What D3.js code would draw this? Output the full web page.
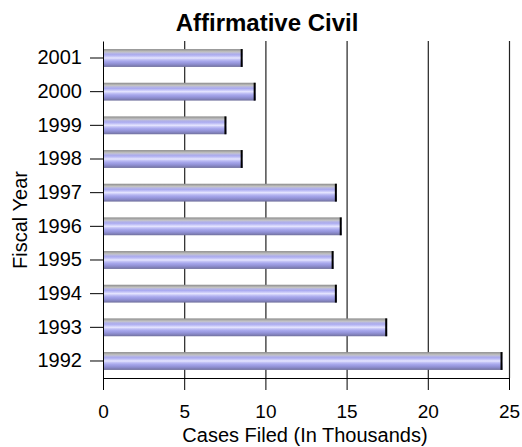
<!DOCTYPE html>
<html>
<head>
<meta charset="utf-8">
<script src="https://cdn.jsdelivr.net/npm/d3@7"></script>
<style>
  html, body { margin: 0; padding: 0; background: #fff; }
  svg { display: block; font-family: Arial, "Liberation Sans", sans-serif; }
</style>
</head>
<body>
<svg id="chart" width="522" height="447"></svg>
<script>
// Affirmative civil cases filed, by fiscal year (thousands)
const years = ["2001", "2000", "1999", "1998", "1997", "1996", "1995", "1994", "1993", "1992"];
const casesFiled = [8.6, 9.4, 7.6, 8.6, 14.4, 14.7, 14.2, 14.4, 17.5, 24.6];
const xTicks = [0, 5, 10, 15, 20, 25];

const svg = d3.select("#chart");
const margin = { top: 41, right: 13, bottom: 69, left: 103 };
const width = 522 - margin.left - margin.right;
const height = 447 - margin.top - margin.bottom;
const FONT = "Arial, 'Liberation Sans', sans-serif";

const x = d3.scaleLinear().domain([0, 25]).range([0, width]);
const y = d3.scaleBand().domain(years).range([0, height]).paddingInner(0.47).paddingOuter(0.24);

// striped lavender fill for the bars
const defs = svg.append("defs");
const grad = defs.append("linearGradient")
  .attr("id", "barFill").attr("x1", 0).attr("y1", 0).attr("x2", 0).attr("y2", 1);
const stops = [
  [0.00, "#8a8a8a"], [0.08, "#a8a8a8"], [0.16, "#c4c4c4"], [0.22, "#b8b8e0"],
  [0.32, "#aaaaf0"], [0.42, "#c8c8f8"], [0.50, "#e6e6ff"], [0.58, "#c4c4f6"],
  [0.68, "#a8a8ec"], [0.78, "#9898de"], [0.88, "#8888c6"], [1.00, "#70709c"]
];
stops.forEach(([o, c]) => grad.append("stop").attr("offset", o).attr("stop-color", c));

const g = svg.append("g").attr("transform", `translate(${margin.left},${margin.top})`);

// vertical grid lines
g.append("g").selectAll("line")
  .data(xTicks.filter(t => t > 0))
  .join("line")
  .attr("x1", d => x(d) + 0.5).attr("x2", d => x(d) + 0.5)
  .attr("y1", 0).attr("y2", height)
  .attr("stroke", "#222").attr("stroke-width", 1.2);

// bars
const bars = g.append("g").selectAll("g")
  .data(years.map((yr, i) => ({ yr, v: casesFiled[i] })))
  .join("g");
bars.append("rect")
  .attr("x", 0)
  .attr("y", d => y(d.yr))
  .attr("width", d => x(d.v))
  .attr("height", y.bandwidth())
  .attr("fill", "url(#barFill)");
bars.append("line")
  .attr("x1", d => x(d.v) - 1).attr("x2", d => x(d.v) - 1)
  .attr("y1", d => y(d.yr)).attr("y2", d => y(d.yr) + y.bandwidth())
  .attr("stroke", "#000").attr("stroke-width", 2);

// x axis
const xAxis = g.append("g")
  .attr("transform", `translate(0,${height})`)
  .call(d3.axisBottom(x).tickValues(xTicks).tickSize(12).tickPadding(15).tickSizeOuter(0));
xAxis.attr("font-size", 19).attr("font-family", FONT);
xAxis.select(".domain").attr("stroke", "#000");
xAxis.selectAll(".tick line").attr("stroke", "#000");
xAxis.selectAll("text").attr("fill", "#000");

// y axis
const yAxis = g.append("g")
  .call(d3.axisLeft(y).tickSize(13).tickPadding(8).tickSizeOuter(0));
yAxis.attr("font-size", 20).attr("font-family", FONT);
yAxis.select(".domain").attr("stroke", "#000");
yAxis.selectAll(".tick line").attr("stroke", "#000");
yAxis.selectAll("text").attr("fill", "#000");

// titles
svg.append("text")
  .attr("x", 267).attr("y", 31)
  .attr("text-anchor", "middle")
  .attr("font-size", 24).attr("font-weight", "bold")
  .text("Affirmative Civil");

svg.append("text")
  .attr("x", 305).attr("y", 442)
  .attr("text-anchor", "middle")
  .attr("font-size", 20)
  .text("Cases Filed (In Thousands)");

svg.append("text")
  .attr("transform", `translate(27,220) rotate(-90)`)
  .attr("text-anchor", "middle")
  .attr("font-size", 20)
  .text("Fiscal Year");
</script>
</body>
</html>
